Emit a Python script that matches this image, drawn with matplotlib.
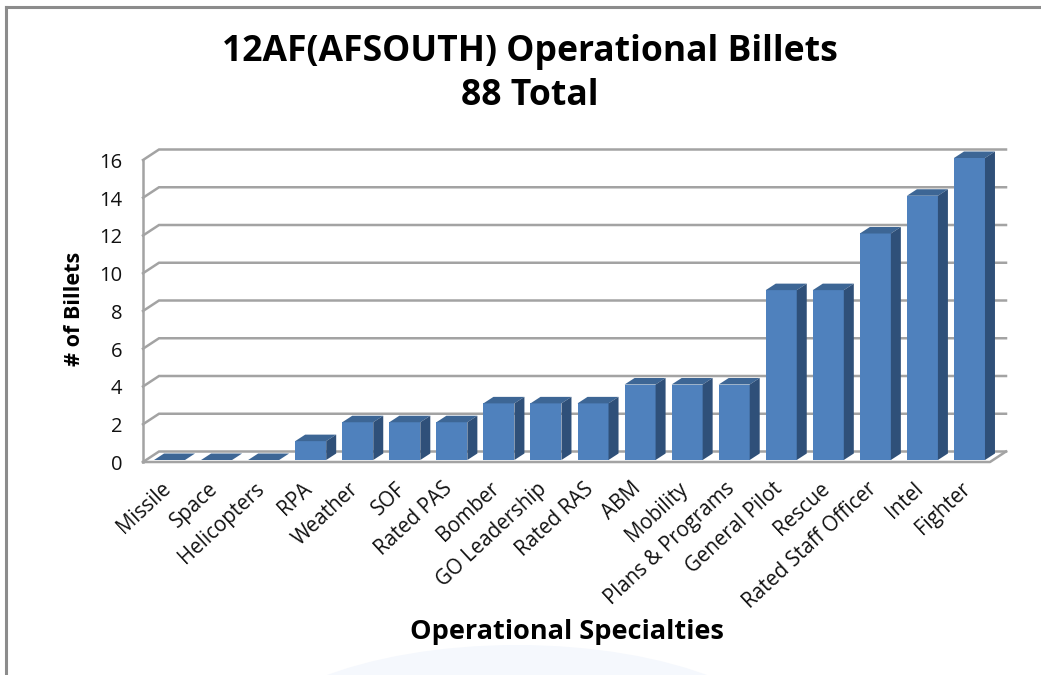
import matplotlib
matplotlib.use("Agg")
import matplotlib.pyplot as plt
from matplotlib.patches import Ellipse
from matplotlib.lines import Line2D

categories = ["Missile", "Space", "Helicopters", "RPA", "Weather", "SOF", "Rated PAS",
              "Bomber", "GO Leadership", "Rated RAS", "ABM", "Mobility",
              "Plans & Programs", "General Pilot", "Rescue", "Rated Staff Officer",
              "Intel", "Fighter"]
billets = [0, 0, 0, 1, 2, 2, 2, 3, 3, 3, 4, 4, 4, 9, 9, 12, 14, 16]
y_ticks = list(range(0, 17, 2))
title_text = "12AF(AFSOUTH) Operational Billets\n88 Total"

W, H = 1041, 675
plt.rcParams['font.family'] = ['Open Sans', 'DejaVu Sans']
fig = plt.figure(figsize=(W / 100, H / 100), dpi=100, facecolor='white')

def fx(px): return px / W
def fy(py): return 1 - py / H

# decorative pale arc and frame
fig.add_artist(Ellipse((fx(517), fy(760)), 564 / W, 230 / H, transform=fig.transFigure,
                       facecolor='#f5f8fd', edgecolor='none'))
frame = '#8c8c8c'
fig.add_artist(Line2D([fx(6), fx(6)], [0, fy(7)], color=frame, lw=2.2))
fig.add_artist(Line2D([fx(6), 1], [fy(7), fy(7)], color=frame, lw=2.2))

L, R, T, B = 143, 990, 160, 462
ax = fig.add_axes([fx(L), fy(B), (R - L) / W, (B - T) / H])
ax.set_xlim(-0.5, 17.5)
ax.set_ylim(0, 16)
ax.axis('off')
upx = (R - L) / 18          # pixels per category
upy = (B - T) / 16          # pixels per unit
pxx = lambda p: p / upx
pxy = lambda p: p / upy

# wall and floor
grid = '#a3a3a3'
wall_dx, wall_dy = pxx(16), pxy(10.5)
x0, x1 = -0.5, 17.5
for t in y_ticks:
    ax.plot([x0, x0 + wall_dx, x1 + wall_dx], [t, t + wall_dy, t + wall_dy],
            color=grid, lw=1.8, clip_on=False, solid_joinstyle='miter', zorder=1)
    ax.text(x0 - pxx(21), t - pxy(3), str(t), ha='right', va='center', fontsize=14.5,
            color='#111111', clip_on=False)
ax.plot([x0, x0], [0, 16], color=grid, lw=1.8, clip_on=False, zorder=1)
ax.plot([x0, x1, x1 + wall_dx], [0, 0, wall_dy], color=grid, lw=1.8, clip_on=False, zorder=1)

# bars
face, top, side = '#4f81bd', '#3d6695', '#2f5079'
bw = pxx(31)
sx, sy = pxx(3), pxy(2)
dx, dy = pxx(10), pxy(6.5)
xs = list(range(len(categories)))
ax.bar([x + sx for x in xs], billets, width=bw, bottom=sy, color=face, edgecolor='none',
       zorder=3, clip_on=False)
for x, v in zip(xs, billets):
    xl = x + sx - bw / 2
    xr = x + sx + bw / 2
    yt = v + sy
    ax.fill([xl, xr, xr + dx, xl + dx], [yt, yt, yt + dy, yt + dy], color=top, lw=0,
            zorder=3, clip_on=False)
    if v > 0:
        ax.fill([xr, xr + dx, xr + dx, xr], [sy, sy + dy, yt + dy, yt], color=side, lw=0,
                zorder=3, clip_on=False)
    ax.annotate(categories[x], xy=(x, 0), xytext=(1, -24), textcoords='offset pixels',
                rotation=43, rotation_mode='anchor', ha='right', va='center',
                fontsize=14.8, color='#111111', annotation_clip=False)

fig.text(fx(530), fy(74), title_text, ha='center', va='center', fontsize=25.6,
         fontweight='bold', color='black', linespacing=1.3)
fig.text(fx(567), fy(632), "Operational Specialties", ha='center', va='center', fontsize=19.5,
         fontweight='bold', color='black')
fig.text(fx(74), fy(309), "# of Billets", ha='center', va='center', rotation=90, fontsize=15.6,
         fontweight='bold', color='black')

fig.savefig("out.png", dpi=100)
